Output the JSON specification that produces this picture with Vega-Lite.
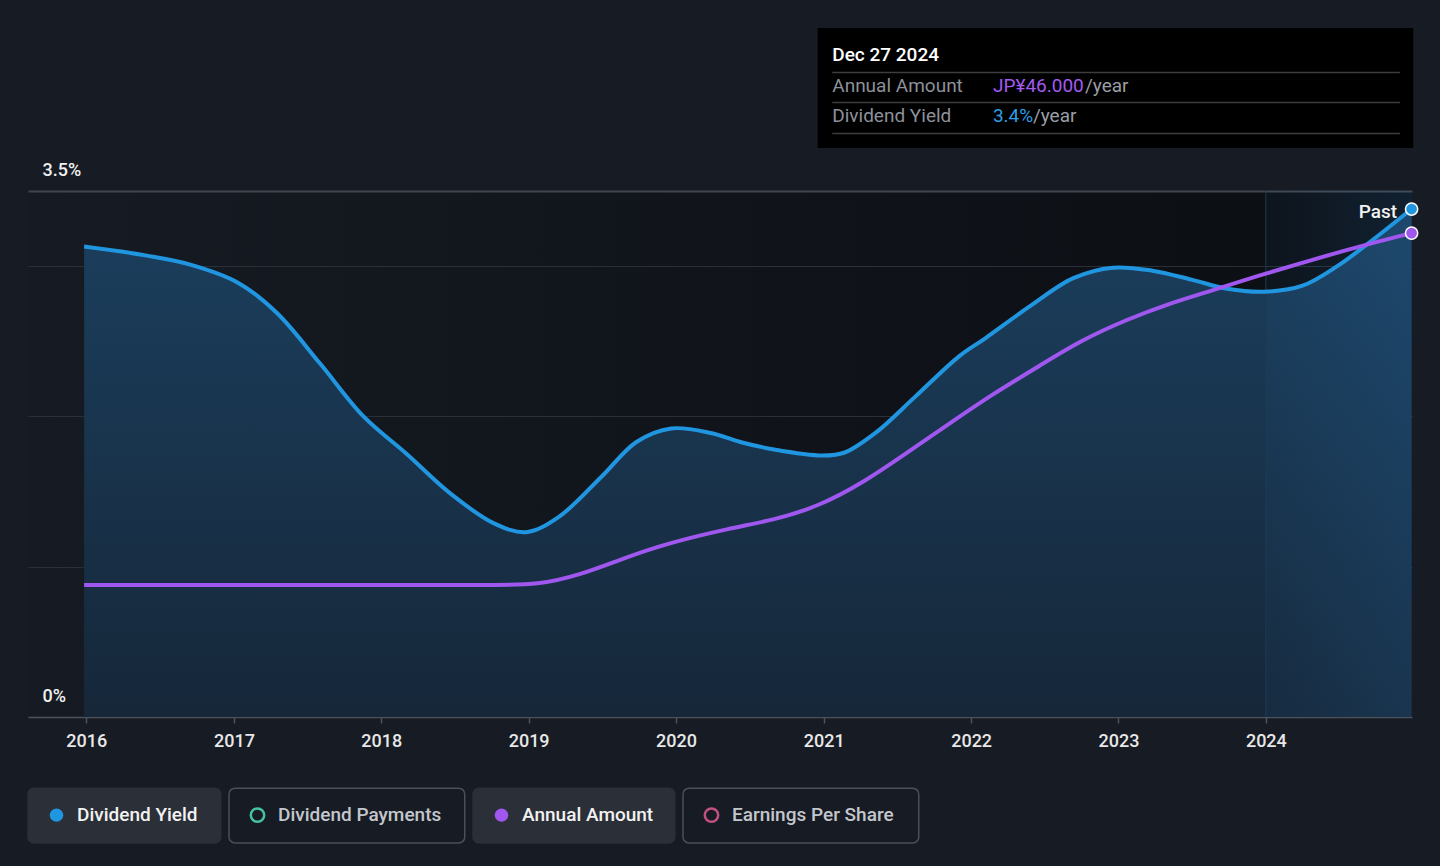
{
  "$schema": "https://vega.github.io/schema/vega-lite/v6.json",
  "width": 1384,
  "height": 526,
  "autosize": {"type": "none"},
  "padding": {"left": 28, "top": 191, "right": 28, "bottom": 149},
  "background": "#171b23",
  "view": {
    "stroke": null,
    "fill": {"gradient": "linear", "x1": 0, "y1": 0, "x2": 1, "y2": 0,
      "stops": [{"offset": 0, "color": "#161b23"}, {"offset": 0.88, "color": "#0c0f14"}, {"offset": 1, "color": "#0c0f14"}]}
  },
  "datasets": {
    "yield": [
      {"date": "2015-12-27", "yield": 3.13},
      {"date": "2016-05-30", "yield": 3.07},
      {"date": "2016-09-15", "yield": 3.01},
      {"date": "2017-01-11", "yield": 2.89},
      {"date": "2017-04-17", "yield": 2.69},
      {"date": "2017-08-03", "yield": 2.35},
      {"date": "2017-11-18", "yield": 2.0},
      {"date": "2018-03-05", "yield": 1.75},
      {"date": "2018-06-20", "yield": 1.49},
      {"date": "2018-10-06", "yield": 1.29},
      {"date": "2018-12-26", "yield": 1.23},
      {"date": "2019-03-16", "yield": 1.33},
      {"date": "2019-07-01", "yield": 1.6},
      {"date": "2019-09-25", "yield": 1.83},
      {"date": "2019-12-20", "yield": 1.92},
      {"date": "2020-03-27", "yield": 1.89},
      {"date": "2020-06-08", "yield": 1.83},
      {"date": "2020-08-31", "yield": 1.78},
      {"date": "2020-12-29", "yield": 1.74},
      {"date": "2021-02-22", "yield": 1.76},
      {"date": "2021-05-09", "yield": 1.89},
      {"date": "2021-08-15", "yield": 2.13},
      {"date": "2021-12-02", "yield": 2.4},
      {"date": "2022-02-05", "yield": 2.52},
      {"date": "2022-05-25", "yield": 2.73},
      {"date": "2022-09-11", "yield": 2.92},
      {"date": "2022-12-18", "yield": 2.99},
      {"date": "2023-03-26", "yield": 2.97},
      {"date": "2023-07-01", "yield": 2.91},
      {"date": "2023-09-27", "yield": 2.85},
      {"date": "2023-12-29", "yield": 2.83},
      {"date": "2024-04-01", "yield": 2.87},
      {"date": "2024-06-26", "yield": 3.0},
      {"date": "2024-09-10", "yield": 3.15},
      {"date": "2024-12-27", "yield": 3.38}
    ],
    "amount": [
      {"date": "2015-12-27", "amount": 12.55},
      {"date": "2017-06-01", "amount": 12.55},
      {"date": "2018-06-01", "amount": 12.55},
      {"date": "2018-10-15", "amount": 12.55},
      {"date": "2019-01-22", "amount": 12.55},
      {"date": "2019-05-09", "amount": 13.5},
      {"date": "2019-08-24", "amount": 15.09},
      {"date": "2019-12-09", "amount": 16.5},
      {"date": "2020-05-14", "amount": 17.94},
      {"date": "2020-08-31", "amount": 18.73},
      {"date": "2020-12-17", "amount": 19.99},
      {"date": "2021-04-06", "amount": 22.21},
      {"date": "2021-07-24", "amount": 25.07},
      {"date": "2021-11-09", "amount": 27.92},
      {"date": "2022-02-26", "amount": 30.77},
      {"date": "2022-06-16", "amount": 33.3},
      {"date": "2022-10-02", "amount": 35.84},
      {"date": "2023-01-19", "amount": 37.74},
      {"date": "2023-05-08", "amount": 39.33},
      {"date": "2023-08-25", "amount": 40.59},
      {"date": "2023-12-11", "amount": 41.92},
      {"date": "2024-03-28", "amount": 43.13},
      {"date": "2024-07-17", "amount": 44.39},
      {"date": "2024-12-27", "amount": 46.0}
    ]
  },
  "layer": [
    {
      "layer": [
        {
          "data": {"name": "yield"},
          "mark": {"type": "area", "interpolate": "catmull-rom",
            "color": {"gradient": "linear", "x1": 0, "y1": 0, "x2": 0, "y2": 1,
              "stops": [{"offset": 0, "color": "#1b3f5e"}, {"offset": 1, "color": "#162739"}]}},
          "encoding": {
            "x": {"field": "date", "type": "temporal",
              "scale": {"domain": [{"year": 2015, "month": 8, "date": 10}, {"year": 2024, "month": 12, "date": 28}]},
              "axis": {"format": "%Y", "tickCount": {"interval": "year", "step": 1}, "title": null, "grid": false,
                "labelColor": "#e8e8e8", "labelFontSize": 18, "labelFontWeight": 500, "labelPadding": 9,
                "domainColor": "#4d525b", "domainWidth": 1.5, "tickColor": "#4d525b", "tickWidth": 1.5, "tickSize": 6,
                "labelFlush": false, "labelOverlap": false}},
            "y": {"field": "yield", "type": "quantitative",
              "scale": {"domain": [0, 3.5], "nice": false, "zero": true},
              "axis": {"values": [0, 1, 2, 3, 3.5], "title": null, "domain": false, "ticks": false,
                "labelExpr": "datum.value === 0 ? '0%' : datum.value === 3.5 ? '3.5%' : ''",
                "labelAlign": "left", "labelPadding": -14, "labelBaseline": "bottom", "labelOffset": -12,
                "labelColor": "#f0f0f0", "labelFontSize": 18, "labelFontWeight": 500,
                "grid": true,
                "gridColor": {"condition": {"test": "datum.value === 3.5", "value": "#40464f"}, "value": "#2a2f38"},
                "gridWidth": {"condition": {"test": "datum.value === 3.5", "value": 2}, "value": 1}}}
          }
        },
        {
          "data": {"values": [{}]},
          "mark": {"type": "rect",
            "color": {"gradient": "linear", "x1": 0, "y1": 0, "x2": 1, "y2": 0,
              "stops": [{"offset": 0, "color": "rgba(40,120,190,0.05)"}, {"offset": 1, "color": "rgba(40,120,190,0.17)"}]}},
          "encoding": {
            "x": {"datum": {"year": 2024, "month": 1, "date": 1}, "type": "temporal"},
            "x2": {"datum": {"year": 2024, "month": 12, "date": 28}},
            "y": {"datum": 0, "type": "quantitative"},
            "y2": {"datum": 3.5}
          }
        },
        {
          "data": {"values": [{}]},
          "mark": {"type": "rule", "color": "#1f3a52", "strokeWidth": 1},
          "encoding": {
            "x": {"datum": {"year": 2024, "month": 1, "date": 1}, "type": "temporal"},
            "y": {"datum": 0, "type": "quantitative"},
            "y2": {"datum": 3.5}
          }
        },
        {
          "data": {"name": "yield"},
          "mark": {"type": "line", "interpolate": "catmull-rom", "strokeWidth": 4},
          "encoding": {
            "x": {"field": "date", "type": "temporal"},
            "y": {"field": "yield", "type": "quantitative"},
            "color": {"datum": "Dividend Yield", "type": "nominal",
              "scale": {"domain": ["Dividend Yield", "Dividend Payments", "Annual Amount", "Earnings Per Share"],
                "range": ["#2196e0", "#45c2a6", "#a057ef", "#c4507f"]},
              "legend": {
                "title": null, "orient": "bottom", "direction": "horizontal", "columns": 4,
                "offset": 38, "padding": 0, "columnPadding": 7, "rowPadding": 0,
                "symbolType": "circle", "symbolSize": 180, "symbolOffset": 19,
                "labelOffset": 11, "labelFontSize": 19, "labelFontWeight": 500, "labelFont": "Roboto",
                "labelLimit": 400, "clipHeight": 54,
                "encode": {
                  "entries": {"update": {
                    "width": {"signal": "datum.index === 0 ? 192 : datum.index === 2 ? 201 : 235"},
                    "height": {"value": 54},
                    "fill": {"signal": "datum.index === 0 || datum.index === 2 ? '#2b2f37' : '#171b23'"},
                    "stroke": {"signal": "datum.index === 0 || datum.index === 2 ? '#2b2f37' : '#4a4f58'"},
                    "strokeWidth": {"value": 1.5},
                    "cornerRadius": {"value": 6}
                  }},
                  "symbols": {"update": {
                    "fill": [{"test": "datum.value === 'Dividend Payments' || datum.value === 'Earnings Per Share'", "value": "transparent"}, {"scale": "color", "field": "value"}],
                    "stroke": {"scale": "color", "field": "value"},
                    "strokeWidth": {"signal": "datum.value === 'Dividend Payments' || datum.value === 'Earnings Per Share' ? 2.5 : 0"},
                    "opacity": {"value": 1}
                  }},
                  "labels": {"update": {
                    "fill": {"signal": "datum.value === 'Dividend Payments' || datum.value === 'Earnings Per Share' ? '#c3c7cd' : '#f2f2f2'"}
                  }}
                }
              }}
          }
        },
        {
          "data": {"name": "yield"},
          "transform": [
            {"window": [{"op": "row_number", "as": "rn"}], "sort": [{"field": "date", "order": "descending"}]},
            {"filter": "datum.rn === 1"}
          ],
          "mark": {"type": "point", "filled": true, "fill": "#2196e0", "size": 150, "stroke": "#ffffff", "strokeWidth": 1.5, "opacity": 1},
          "encoding": {
            "x": {"field": "date", "type": "temporal"},
            "y": {"field": "yield", "type": "quantitative"}
          }
        },
        {
          "data": {"values": [{}]},
          "mark": {"type": "text", "text": "Past", "align": "right", "baseline": "middle", "fontSize": 19, "fontWeight": 500, "color": "#f2f2f2"},
          "encoding": {
            "x": {"datum": {"year": 2024, "month": 11, "date": 21}, "type": "temporal"},
            "y": {"datum": 3.36, "type": "quantitative"}
          }
        },
        {
          "data": {"values": [{}]},
          "mark": {"type": "rect", "color": "#000000"},
          "encoding": {
            "x": {"datum": {"year": 2020, "month": 12, "date": 17}, "type": "temporal"},
            "x2": {"datum": {"year": 2024, "month": 12, "date": 31}},
            "y": {"datum": 4.585, "type": "quantitative"},
            "y2": {"datum": 3.786}
          }
        },
        {
          "data": {"values": [{}]},
          "mark": {"type": "rule", "color": "#3d3d3d", "strokeWidth": 1.5},
          "encoding": {
            "x": {"datum": {"year": 2021, "month": 1, "date": 22}, "type": "temporal"},
            "x2": {"datum": {"year": 2024, "month": 11, "date": 28}},
            "y": {"datum": 4.288, "type": "quantitative"}
          }
        },
        {
          "data": {"values": [{}]},
          "mark": {"type": "rule", "color": "#3d3d3d", "strokeWidth": 1.5},
          "encoding": {
            "x": {"datum": {"year": 2021, "month": 1, "date": 22}, "type": "temporal"},
            "x2": {"datum": {"year": 2024, "month": 11, "date": 28}},
            "y": {"datum": 4.089, "type": "quantitative"}
          }
        },
        {
          "data": {"values": [{}]},
          "mark": {"type": "rule", "color": "#3d3d3d", "strokeWidth": 1.5},
          "encoding": {
            "x": {"datum": {"year": 2021, "month": 1, "date": 22}, "type": "temporal"},
            "x2": {"datum": {"year": 2024, "month": 11, "date": 28}},
            "y": {"datum": 3.883, "type": "quantitative"}
          }
        },
        {
          "data": {"values": [{}]},
          "mark": {"type": "text", "text": "Dec 27 2024", "align": "left", "baseline": "middle", "fontSize": 19, "fontWeight": 500, "color": "#ffffff"},
          "encoding": {
            "x": {"datum": {"year": 2021, "month": 1, "date": 22}, "type": "temporal"},
            "y": {"datum": 4.405, "type": "quantitative"}
          }
        },
        {
          "data": {"values": [{}]},
          "mark": {"type": "text", "text": "Annual Amount", "align": "left", "baseline": "middle", "fontSize": 19, "color": "#8d9199"},
          "encoding": {
            "x": {"datum": {"year": 2021, "month": 1, "date": 22}, "type": "temporal"},
            "y": {"datum": 4.198, "type": "quantitative"}
          }
        },
        {
          "data": {"values": [{}]},
          "mark": {"type": "text", "text": "JP¥46.000", "align": "left", "baseline": "middle", "fontSize": 19, "color": "#a35bf2"},
          "encoding": {
            "x": {"datum": {"year": 2022, "month": 2, "date": 24}, "type": "temporal"},
            "y": {"datum": 4.198, "type": "quantitative"}
          }
        },
        {
          "data": {"values": [{}]},
          "mark": {"type": "text", "text": "/year", "align": "left", "baseline": "middle", "fontSize": 19, "color": "#9a9ea6"},
          "encoding": {
            "x": {"datum": {"year": 2022, "month": 10, "date": 10}, "type": "temporal"},
            "y": {"datum": 4.198, "type": "quantitative"}
          }
        },
        {
          "data": {"values": [{}]},
          "mark": {"type": "text", "text": "Dividend Yield", "align": "left", "baseline": "middle", "fontSize": 19, "color": "#8d9199"},
          "encoding": {
            "x": {"datum": {"year": 2021, "month": 1, "date": 22}, "type": "temporal"},
            "y": {"datum": 3.998, "type": "quantitative"}
          }
        },
        {
          "data": {"values": [{}]},
          "mark": {"type": "text", "text": "3.4%", "align": "left", "baseline": "middle", "fontSize": 19, "color": "#2f9ee6"},
          "encoding": {
            "x": {"datum": {"year": 2022, "month": 2, "date": 24}, "type": "temporal"},
            "y": {"datum": 3.998, "type": "quantitative"}
          }
        },
        {
          "data": {"values": [{}]},
          "mark": {"type": "text", "text": "/year", "align": "left", "baseline": "middle", "fontSize": 19, "color": "#9a9ea6"},
          "encoding": {
            "x": {"datum": {"year": 2022, "month": 6, "date": 3}, "type": "temporal"},
            "y": {"datum": 3.998, "type": "quantitative"}
          }
        }
      ]
    },
    {
      "data": {"name": "amount"},
      "layer": [
        {
          "mark": {"type": "line", "interpolate": "basis", "strokeWidth": 4},
          "encoding": {
            "x": {"field": "date", "type": "temporal"},
            "y": {"field": "amount", "type": "quantitative", "scale": {"domain": [0, 50], "nice": false}, "axis": null},
            "color": {"datum": "Annual Amount", "type": "nominal"}
          }
        },
        {
          "transform": [
            {"window": [{"op": "row_number", "as": "rn"}], "sort": [{"field": "date", "order": "descending"}]},
            {"filter": "datum.rn === 1"}
          ],
          "mark": {"type": "point", "filled": true, "fill": "#a057ef", "size": 150, "stroke": "#ffffff", "strokeWidth": 1.5, "opacity": 1},
          "encoding": {
            "x": {"field": "date", "type": "temporal"},
            "y": {"field": "amount", "type": "quantitative"}
          }
        }
      ]
    }
  ],
  "resolve": {"scale": {"y": "independent"}, "axis": {"y": "independent"}},
  "config": {
    "font": "Roboto",
    "text": {"font": "Roboto"}
  }
}
